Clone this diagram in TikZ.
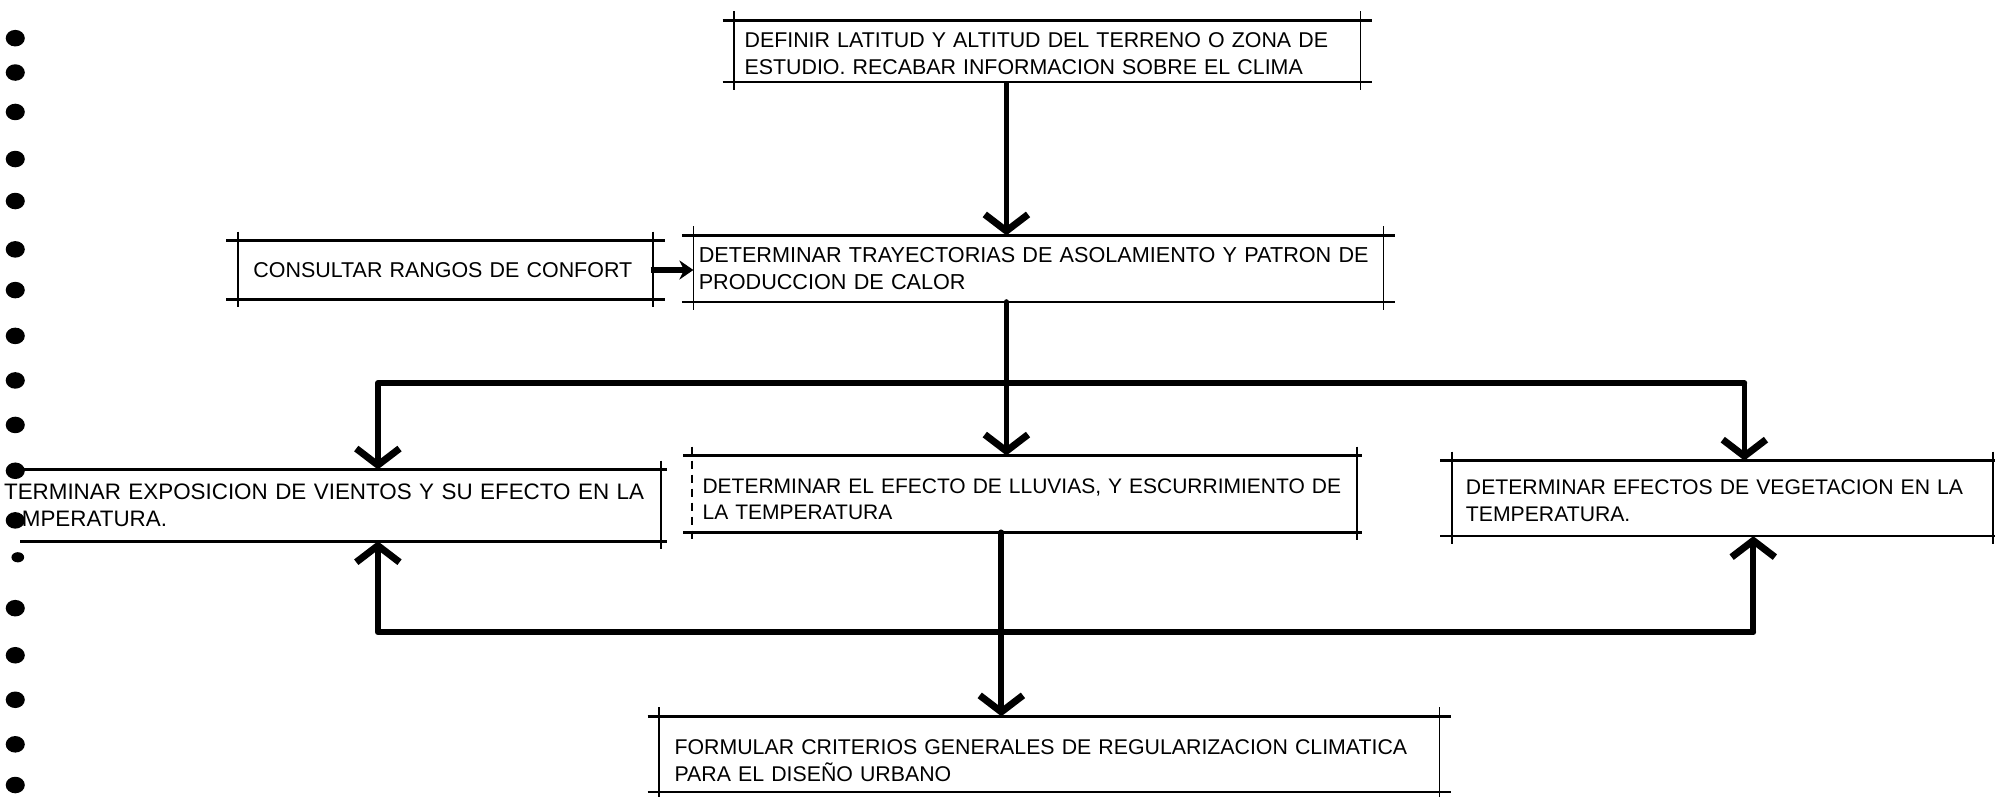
\documentclass[tikz,border=0pt]{standalone}
\usepackage{fontspec}
\setmainfont{Liberation Sans}
\usetikzlibrary{arrows.meta}
\newcommand{\drafted}[1]{%
 \draw[hline] ([xshift=-9pt]#1.north west) -- ([xshift=9pt]#1.north east);
 \draw[hline] ([xshift=-9pt]#1.south west) -- ([xshift=9pt]#1.south east);
 \draw[vline] ([yshift=7pt]#1.north west) -- ([yshift=-6pt]#1.south west);
 \draw[vline] ([yshift=7pt]#1.north east) -- ([yshift=-6pt]#1.south east);}
\begin{document}
\begin{tikzpicture}[x=1pt,y=-1pt,
  box/.style={anchor=north west, inner ysep=0pt, align=left, font=\fontsize{17pt}{21pt}\selectfont},
  fs/.style={font=\fontsize{#1}{21pt}\selectfont},
  hline/.style={line width=2pt},
  vline/.style={line width=1.3pt},
  conn/.style={line width=4.5pt, line cap=round},
  arr/.style={line width=4.5pt, -{Straight Barb[length=13pt,width=34pt,line width=5.5pt]}},
  arrsmall/.style={line width=4.5pt, -{Stealth[length=11pt,width=15pt]}}]
\useasboundingbox (0,0) rectangle (1568,626);

% margin holes
\foreach \yy in {30,57,88,125,158,196,228,264,299,334,370,409,478,515,550,585,617}
  \fill (12,\yy) ellipse [x radius=7.5pt, y radius=6.5pt];
\fill (14,438) ellipse [x radius=5pt, y radius=4pt];

% boxes
\node[box, fs=16.8pt, minimum width=492pt, minimum height=48pt, inner xsep=8pt, text width=476pt] (A) at (577,16)
 {\mbox{\rule{0pt}{16pt}DEFINIR LATITUD Y ALTITUD DEL TERRENO O ZONA DE}\\\mbox{ESTUDIO. RECABAR INFORMACION SOBRE EL CLIMA}};
\node[box, fs=17pt, minimum width=542pt, minimum height=52pt, inner xsep=4pt, text width=534pt] (B) at (545,185)
 {\mbox{DETERMINAR TRAYECTORIAS DE ASOLAMIENTO Y PATRON DE}\\\mbox{PRODUCCION DE CALOR}};
\node[box, fs=16.85pt, minimum width=326pt, minimum height=46pt, inner xsep=12pt, text width=302pt] (C) at (187,189)
 {\mbox{CONSULTAR RANGOS DE CONFORT}};
\node[box, fs=17.6pt, minimum width=519pt, minimum height=56pt, inner xsep=3pt, text width=513pt] (D) at (0,369)
 {\mbox{TERMINAR EXPOSICION DE VIENTOS Y SU EFECTO EN LA}\\\mbox{\hspace*{14pt}MPERATURA.}};
\node[box, fs=16.5pt, minimum width=522pt, minimum height=60pt, inner xsep=8pt, text width=506pt] (E) at (544,358)
 {\mbox{\rule{0pt}{20pt}DETERMINAR EL EFECTO DE LLUVIAS, Y ESCURRIMIENTO DE}\\\mbox{LA TEMPERATURA}};
\node[box, fs=16.65pt, minimum width=425pt, minimum height=59pt, inner xsep=11pt, text width=403pt] (F) at (1141,362)
 {\mbox{\rule{0pt}{15pt}DETERMINAR EFECTOS DE VEGETACION EN LA}\\\mbox{TEMPERATURA.}};
\node[box, fs=16.75pt, minimum width=613pt, minimum height=59pt, inner xsep=12pt, text width=589pt] (G) at (518,563)
 {\mbox{\rule{0pt}{22pt}FORMULAR CRITERIOS GENERALES DE REGULARIZACION CLIMATICA}\\\mbox{PARA EL DISEÑO URBANO}};

\drafted{A}
\drafted{B}
\drafted{C}
\drafted{F}
\drafted{G}
% D: left side runs off the sheet
\draw[hline] ([xshift=16pt]D.north west) -- ([xshift=5pt]D.north east);
\draw[hline] ([xshift=16pt]D.south west) -- ([xshift=5pt]D.south east);
\draw[vline] ([yshift=7pt]D.north east) -- ([yshift=-6pt]D.south east);
% E: broken left edge
\draw[hline] ([xshift=-7pt]E.north west) -- ([xshift=4pt]E.north east);
\draw[hline] ([xshift=-7pt]E.south west) -- ([xshift=4pt]E.south east);
\draw[vline, dash pattern=on 7pt off 4pt] ([yshift=7pt]E.north west) -- ([yshift=-6pt]E.south west);
\draw[vline] ([yshift=7pt]E.north east) -- ([yshift=-6pt]E.south east);

% connectors
\coordinate (tl) at (297,301);
\coordinate (tm) at (791,301);
\coordinate (tr) at (1371,301);
\coordinate (bl) at (297,497);
\coordinate (bm) at (787,497);
\coordinate (br) at (1378,497);

\draw[arr] (tm |- A.south) -- (tm |- B.north);
\draw[arrsmall] ([xshift=-2pt]C.east) -- (C.east -| B.west);
\draw[conn] (tm |- B.south) -- (tm);
\draw[conn] (tl) -- (tr);
\draw[arr] (tl) -- (tl |- D.north);
\draw[arr] (tm) -- (tm |- E.north);
\draw[arr] (tr) -- (tr |- F.north);

\draw[conn] (bm |- E.south) -- (bm);
\draw[conn] (bl) -- (br);
\draw[arr] (bl) -- (bl |- D.south);
\draw[arr] (br) -- (br |- F.south);
\draw[arr] (bm) -- (bm |- G.north);
\end{tikzpicture}
\end{document}
